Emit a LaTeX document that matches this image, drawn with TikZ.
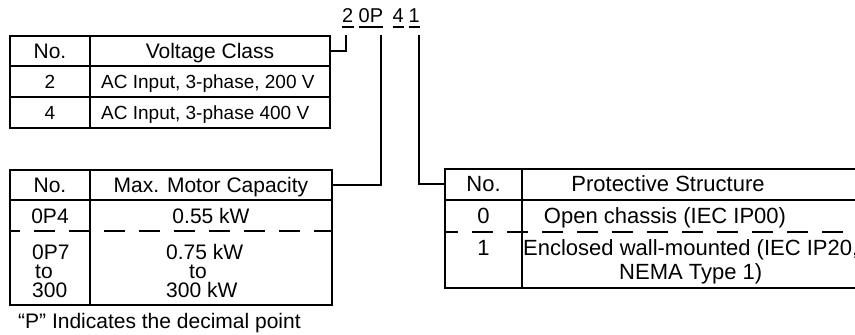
\documentclass[tikz,border=0pt]{standalone}
\usepackage{fontspec}
\setmainfont{Liberation Sans}
\usetikzlibrary{calc}

\tikzset{
  frame/.style={line width=2.8pt},
  sepline/.style={line width=2.8pt, dash pattern=on 21pt off 14pt},
  lead/.style={line width=2.8pt},
  hd/.style={inner sep=0pt, font=\fontsize{21}{24}\selectfont, text height=15pt, text depth=0pt},
  pr/.style={inner sep=0pt, font=\fontsize{22}{24}\selectfont, text height=15.8pt, text depth=0pt},
  rw/.style={inner sep=0pt, font=\fontsize{19}{22}\selectfont, text height=13.6pt, text depth=0pt},
  code/.style={inner sep=0pt, font=\fontsize{20}{22}\selectfont, anchor=base west},
}

\begin{document}
\begin{tikzpicture}[x=1pt,y=-1pt]
\clip (0,0) rectangle (855,335);

% model code
\node[code] (c2) at (342,22) {2};
\node[code] (c0P) at (358.5,22) {0P};
\node[code] (c4) at (392.5,22) {4};
\node[code] (c1) at (408.5,22) {1};
\foreach \t in {c2,c0P,c4,c1} \draw[line width=1.3pt] ($(\t.base west)+(0,5)$) -- ($(\t.base east)+(0,5)$);

% voltage class
\draw[frame] (10,36) rectangle (330,128);
\draw[frame] (10,66) -- (330,66);
\draw[frame] (10,97) -- (330,97);
\draw[frame] (90,36) -- (90,128);
\node[hd] (vno) at (50,51) {No.};
\node[hd, minimum width=240pt] (vhead) at (210,51) {Voltage Class};
\node[rw] (v2) at (50,82) {2};
\node[rw, anchor=west] (v2t) at (101,82) {AC Input, 3-phase, 200 V};
\node[rw] (v4) at (50,113) {4};
\node[rw, anchor=west] (v4t) at (101,113) {AC Input, 3-phase 400 V};

% motor capacity
\draw[frame] (10,170) rectangle (332,305);
\draw[frame] (10,200) -- (332,200);
\draw[sepline, dash phase=11pt] (10,231) -- (332,231);
\draw[frame] (90,170) -- (90,305);
\node[hd] (mno) at (50,185) {No.};
\node[hd, minimum width=242pt] (mhead) at (211,185) {Max. Motor Capacity};
\node[hd] (m4) at (50,216) {0P4};
\node[hd] (m4t) at (211,216) {0.55 kW};
\node[hd, anchor=west] (m7a) at (32,252) {0P7};
\node[hd, anchor=west] (m7b) at (35,271) {to};
\node[hd, anchor=west] (m7c) at (32,290) {300};
\node[hd, anchor=west] (m7d) at (166,252) {0.75 kW};
\node[hd, anchor=west] (m7e) at (189,271) {to};
\node[hd, anchor=west] (m7f) at (166,290) {300 kW};
\node[hd, anchor=west] (note) at (18,321) {``P'' Indicates the decimal point};

% protective structure
\draw[frame] (445,169) rectangle (858,288);
\draw[frame] (445,200) -- (858,200);
\draw[sepline, dash phase=8pt] (445,232) -- (858,232);
\draw[frame] (522,169) -- (522,288);
\node[pr, minimum width=77pt] (pno) at (483.5,184) {No.};
\node[pr] (phead) at (668,184) {Protective Structure};
\node[pr] (p0) at (483.5,216) {0};
\node[pr] (p0t) at (665,216) {Open chassis (IEC IP00)};
\node[pr] (p1) at (483.5,248) {1};
\node[pr, anchor=west] (p1t) at (523,248) {Enclosed wall-mounted (IEC IP20,};
\node[pr] (p1u) at (p1t.center |- 0,272) {NEMA Type 1)};

% leads
\coordinate (t2) at (346,35);
\coordinate (t0P) at (381,35);
\coordinate (t1) at (419,35);
\draw[lead] (t2) |- (vhead.east);
\draw[lead] (t0P) |- (mhead.east);
\draw[lead] (t1) |- (pno.west);

\end{tikzpicture}
\end{document}
